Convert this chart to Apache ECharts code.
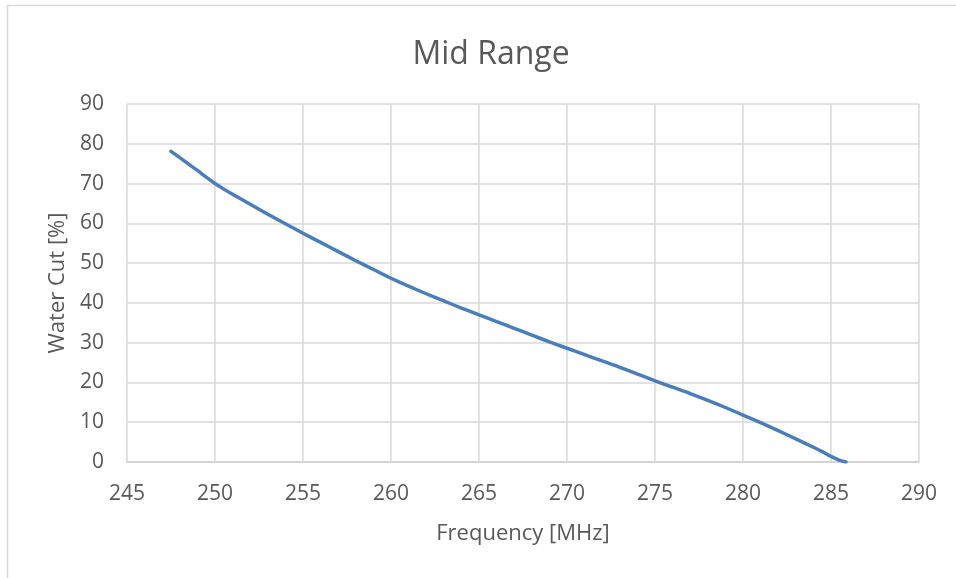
<!DOCTYPE html>
<html>
<head>
<meta charset="utf-8">
<script src="https://cdn.jsdelivr.net/npm/echarts@6/dist/echarts.min.js"></script>
<style>
html,body{margin:0;padding:0;background:#fff;}
#chart{width:956px;height:578px;}
</style>
</head>
<body>
<div id="chart"></div>
<script>
const titleText = "Mid Range";
const xName = "Frequency [MHz]";
const yName = "Water Cut [%]";
const frequency = [247.5, 248.0, 248.5, 249.0, 249.5, 250, 250.5, 251, 252, 253, 254, 255, 256, 257, 258, 259, 260, 261, 262, 263, 264, 265, 266, 267, 268, 269, 270, 271, 272, 273, 274, 275, 276, 277, 278, 279, 280, 281, 282, 283, 284, 284.5, 285, 285.5, 285.85];
const waterCut = [78.1, 76.5, 74.9, 73.3, 71.6, 70.0, 68.6, 67.3, 64.8, 62.3, 59.9, 57.5, 55.2, 52.9, 50.6, 48.4, 46.2, 44.2, 42.3, 40.5, 38.7, 37.0, 35.3, 33.6, 31.9, 30.2, 28.6, 27.0, 25.4, 23.8, 22.1, 20.4, 18.8, 17.2, 15.5, 13.7, 11.8, 9.9, 7.9, 5.8, 3.7, 2.6, 1.4, 0.4, 0.0];
const xMin = 245, xMax = 290, xStep = 5;
const yMin = 0, yMax = 90, yStep = 10;

const font = '"Open Sans", "Noto Sans", sans-serif';
const textColor = '#595959';
const lineColor = '#4a7ebb';
const chart = echarts.init(document.getElementById('chart'), null, {renderer: 'canvas'});
const seriesData = frequency.map((f, i) => [f, waterCut[i]]);
chart.setOption({
  animation: false,
  backgroundColor: '#ffffff',
  graphic: [{
    type: 'rect',
    shape: {x: 7.5, y: 5.5, width: 1000, height: 1000},
    style: {fill: 'none', stroke: '#d9d9d9', lineWidth: 1.5},
    silent: true
  }],
  title: {
    text: titleText,
    left: 486,
    textAlign: 'center',
    top: 34,
    textStyle: {fontFamily: font, fontSize: 32, fontWeight: 'normal', color: textColor}
  },
  grid: {left: 127, right: 37, top: 104, bottom: 116, containLabel: false},
  xAxis: {
    type: 'value',
    min: xMin, max: xMax, interval: xStep,
    name: xName,
    nameLocation: 'middle',
    nameGap: 61,
    nameTextStyle: {fontFamily: font, fontSize: 22, color: textColor},
    axisLine: {show: true, lineStyle: {color: '#d0d0d0', width: 1.5}},
    axisTick: {show: false},
    axisLabel: {fontFamily: font, fontSize: 21, color: textColor, margin: 22},
    splitLine: {show: true, lineStyle: {color: '#d9d9d9', width: 1.5}}
  },
  yAxis: {
    type: 'value',
    min: yMin, max: yMax, interval: yStep,
    name: yName,
    nameLocation: 'middle',
    nameGap: 56,
    nameRotate: 90,
    nameTextStyle: {fontFamily: font, fontSize: 22, color: textColor},
    axisLine: {show: false},
    axisTick: {show: false},
    axisLabel: {fontFamily: font, fontSize: 21, color: textColor, margin: 23},
    splitLine: {show: true, lineStyle: {color: '#d9d9d9', width: 1.5}}
  },
  series: [{
    type: 'line',
    data: seriesData,
    showSymbol: false,
    smooth: 0.3,
    lineStyle: {color: lineColor, width: 3.5, cap: 'round', join: 'round'},
    itemStyle: {color: lineColor}
  }]
});
</script>
</body>
</html>
